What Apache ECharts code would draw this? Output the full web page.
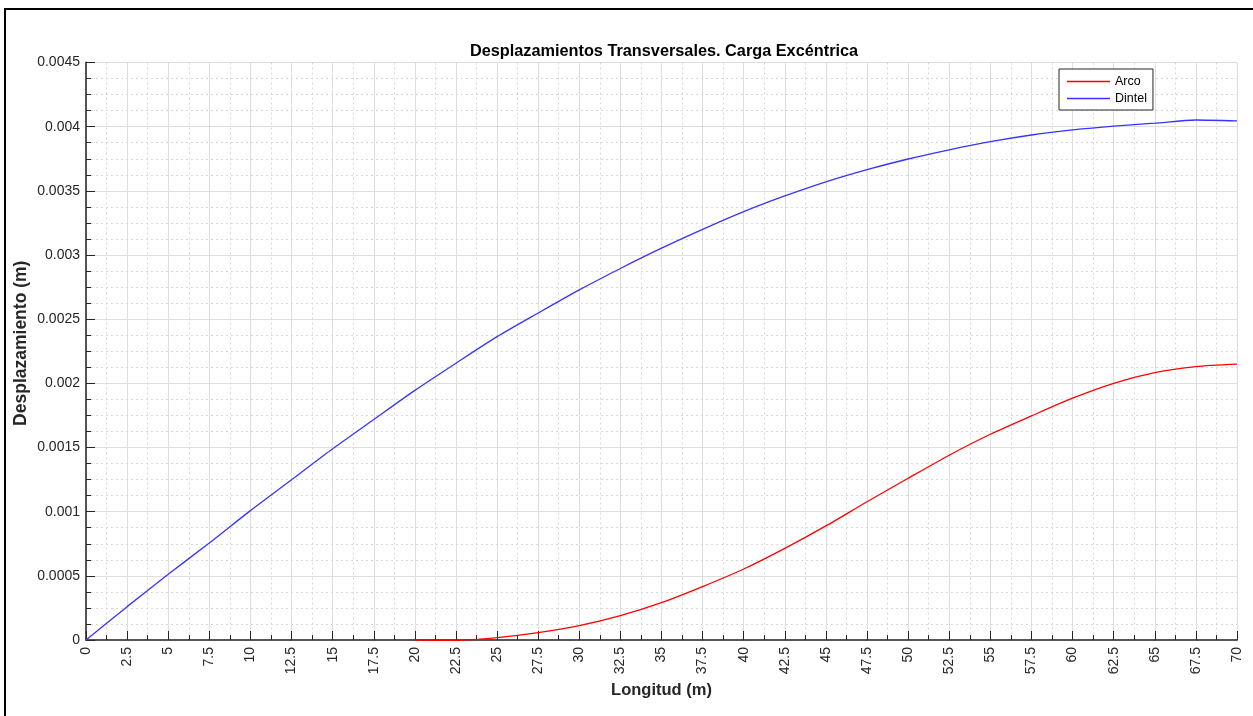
<!DOCTYPE html>
<html>
<head>
<meta charset="utf-8">
<script src="https://cdn.jsdelivr.net/npm/echarts@6/dist/echarts.min.js"></script>
<style>
  html, body { margin: 0; padding: 0; background: #fff; }
  #chart { width: 1253px; height: 716px; }
</style>
</head>
<body>
<div id="chart"></div>
<script>
// Station along the span (m)
const longitud = [0, 2.5, 5, 7.5, 10, 12.5, 15, 17.5, 20, 22.5, 25, 27.5, 30, 32.5, 35,
                  37.5, 40, 42.5, 45, 47.5, 50, 52.5, 55, 57.5, 60, 62.5, 65, 67.5, 70];

// Transverse displacement of the arch (m); the arch begins at x = 20 m
const arco = [null, null, null, null, null, null, null, null,
              0, -0.000003, 0.000018, 0.000057, 0.000112, 0.00019, 0.000291,
              0.000416, 0.000553, 0.000714, 0.000889, 0.001077, 0.00126, 0.00144, 0.001603,
              0.001746, 0.001884, 0.002, 0.002083, 0.00213, 0.002149];

// Transverse displacement of the deck (m)
const dintel = [0, 0.00026, 0.000512, 0.000756, 0.001008, 0.001248, 0.00149, 0.001718, 0.001945,
                0.002157, 0.002364, 0.002548, 0.002728, 0.002895, 0.003053, 0.0032, 0.003338,
                0.00346, 0.00357, 0.003665, 0.003748, 0.00382, 0.003883, 0.003935, 0.003975,
                0.004005, 0.004027, 0.004052, 0.004045];

const seriesNames = ['Arco', 'Dintel'];
const seriesColors = ['#ff0000', '#3535ff'];
const titleText = 'Desplazamientos Transversales. Carga Excéntrica';
const xName = 'Longitud (m)';
const yName = 'Desplazamiento (m)';

function pairs(xs, ys) {
  const out = [];
  for (let i = 0; i < xs.length; i++) {
    if (ys[i] !== null) out.push([xs[i], ys[i]]);
  }
  return out;
}

const FONT = '"Liberation Sans", Arial, Helvetica, sans-serif';
const AX = '#262626';

const chart = echarts.init(document.getElementById('chart'), null, { renderer: 'canvas' });

chart.setOption({
  backgroundColor: '#ffffff',
  animation: false,
  title: {
    text: titleText,
    left: 659, top: 39, textAlign: 'center',
    textStyle: { fontFamily: FONT, fontSize: 16.3, fontWeight: 'bold', color: '#000' }
  },
  graphic: [{
    type: 'rect', silent: true, z: 100,
    shape: { x: 5, y: 9, width: 1400, height: 900 },
    style: { fill: 'none', stroke: '#000', lineWidth: 2 }
  }],
  legend: {
    data: seriesNames,
    orient: 'vertical',
    left: 1059, top: 69,
    padding: [6, 6, 5, 8],
    itemGap: 4,
    icon: 'rect',
    itemWidth: 43, itemHeight: 1.3,
    backgroundColor: '#fff',
    borderColor: AX, borderWidth: 1, borderRadius: 0,
    textStyle: { fontFamily: FONT, fontSize: 12.5, color: '#000', lineHeight: 13 }
  },
  grid: { left: 86, top: 62.5, right: 16, bottom: 76, containLabel: false },
  xAxis: {
    type: 'value',
    min: 0, max: 70, interval: 2.5,
    name: xName, nameLocation: 'middle', nameGap: 42, nameMoveOverlap: false,
    nameTextStyle: { fontFamily: FONT, fontSize: 16.5, fontWeight: 'bold', color: AX },
    axisLine: { show: true, onZero: false, lineStyle: { color: '#555', width: 2 } },
    axisTick: { show: true, inside: true, length: 9, lineStyle: { color: AX, width: 1 } },
    minorTick: { show: true, splitNumber: 2, length: 5, lineStyle: { color: AX, width: 1 } },
    axisLabel: {
      rotate: 90, margin: 7, fontFamily: FONT, fontSize: 14, color: AX,
      formatter: v => String(+v.toFixed(2))
    },
    splitLine: { show: true, lineStyle: { color: '#dedede', width: 1 } },
    minorSplitLine: { show: true, lineStyle: { color: '#d8d8d8', width: 1, type: [2, 3] } }
  },
  yAxis: {
    type: 'value',
    min: 0, max: 0.0045, interval: 0.0005,
    name: yName, nameLocation: 'middle', nameGap: 56, nameMoveOverlap: false,
    nameTextStyle: {
      fontFamily: FONT, fontSize: 17.5, fontWeight: 'bold', color: AX,
      padding: [0, 0, 0, 16]
    },
    axisLine: { show: true, onZero: false, lineStyle: { color: '#555', width: 2 } },
    axisTick: { show: true, inside: true, length: 9, lineStyle: { color: AX, width: 1 } },
    minorTick: { show: true, splitNumber: 4, length: 5, lineStyle: { color: AX, width: 1 } },
    axisLabel: {
      margin: 6, fontFamily: FONT, fontSize: 14, color: AX,
      formatter: v => String(+v.toFixed(4))
    },
    splitLine: { show: true, lineStyle: { color: '#dedede', width: 1 } },
    minorSplitLine: { show: true, lineStyle: { color: '#d8d8d8', width: 1, type: [2, 3] } }
  },
  series: [
    {
      name: seriesNames[0], type: 'line', data: pairs(longitud, arco),
      showSymbol: false, symbol: 'none', smooth: 0.25, clip: false,
      lineStyle: { color: seriesColors[0], width: 1.3 }, itemStyle: { color: seriesColors[0] }
    },
    {
      name: seriesNames[1], type: 'line', data: pairs(longitud, dintel),
      showSymbol: false, symbol: 'none', smooth: 0.25, clip: false,
      lineStyle: { color: seriesColors[1], width: 1.3 }, itemStyle: { color: seriesColors[1] }
    }
  ]
});
</script>
</body>
</html>
